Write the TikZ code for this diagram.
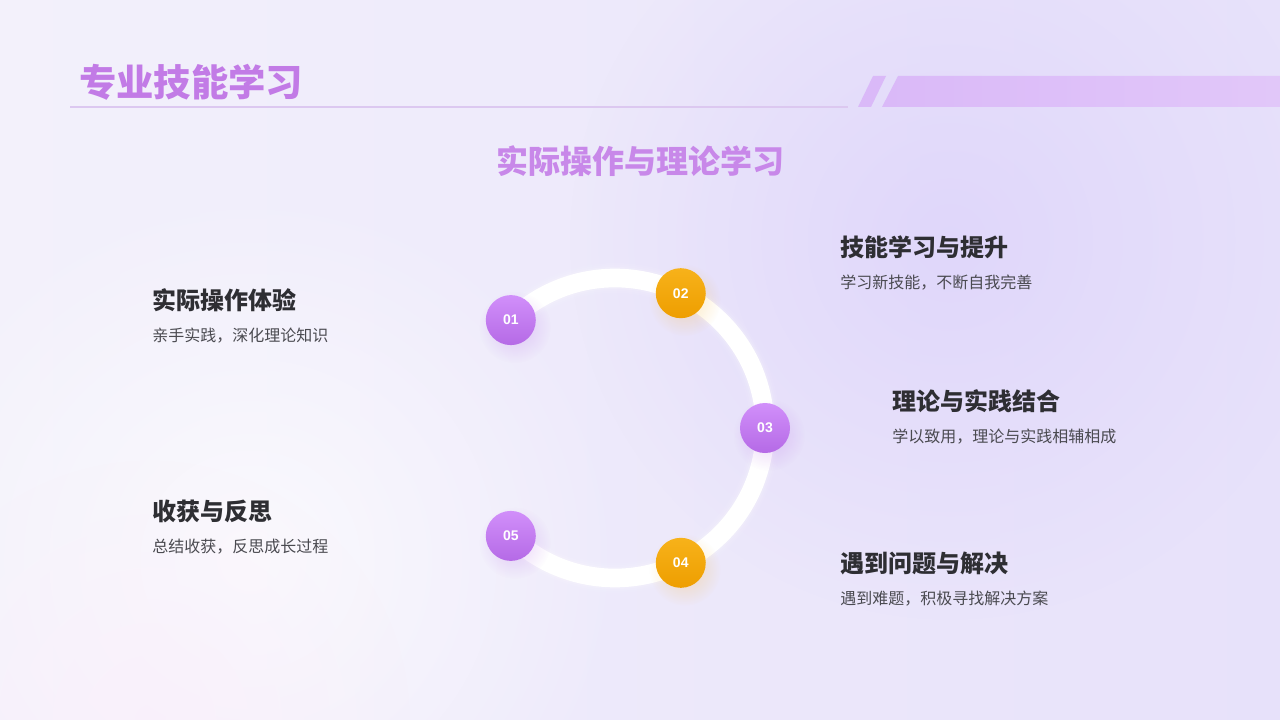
\documentclass[tikz,border=0pt]{standalone}
\usepackage{fontspec}
\newfontfamily\cjk{Noto Sans CJK SC}
\newfontfamily\numf{Liberation Sans}
\usetikzlibrary{calc,fadings}
\tikzfading[name=softblob, inner color=transparent!0, outer color=transparent!100]
\definecolor{bgA}{HTML}{F3F1FB}
\definecolor{bgB}{HTML}{E7E1FA}
\definecolor{blobP}{HTML}{DDD3FA}
\definecolor{blobK}{HTML}{FBF0FB}
\definecolor{titlep}{HTML}{C27BE6}
\definecolor{barp}{HTML}{DAB9F8}
\definecolor{linep}{HTML}{DCC8F0}
\definecolor{purA}{HTML}{D18FFA}
\definecolor{purB}{HTML}{B56AE6}
\definecolor{orA}{HTML}{F7B21A}
\definecolor{orB}{HTML}{EE9E00}
\definecolor{headc}{HTML}{2E2E33}
\definecolor{subc}{HTML}{4A4A50}
\tikzset{
  heading/.style={anchor=west,inner sep=0pt,font=\cjk\bfseries\fontsize{18pt}{21pt}\selectfont,text=headc},
  subtext/.style={anchor=west,inner sep=0pt,font=\cjk\fontsize{12pt}{14pt}\selectfont,text=subc},
  purdot/.style={circle,minimum size=37.5pt,inner sep=0pt,text=white,font=\numf\bfseries\fontsize{10.5pt}{12pt}\selectfont,shade,top color=purA,bottom color=purB},
  ordot/.style={circle,minimum size=37.5pt,inner sep=0pt,text=white,font=\numf\bfseries\fontsize{10.5pt}{12pt}\selectfont,shade,top color=orA,bottom color=orB},
}
\begin{document}
\begin{tikzpicture}[x=0.75pt,y=-0.75pt]
% background
\useasboundingbox (0,0) rectangle (1280,720);
\shade[left color=bgA,right color=bgB] (0,0) rectangle (1280,720);
\fill[blobP,path fading=softblob,opacity=0.8] (950,240) circle[radius=380];
\fill[white,path fading=softblob,opacity=0.7] (250,560) circle[radius=380];
\fill[blobK,path fading=softblob,opacity=0.8] (150,720) circle[radius=260];
% header
\node[anchor=west,inner sep=0pt,font=\cjk\bfseries\fontsize{28pt}{30pt}\selectfont,text=titlep] (title) at (79,82) {专业技能学习};
\draw[linep,line width=1.1pt] (70,107) coordinate (l1) -- (848,107) coordinate (l2);
\fill[barp] (858,107) -- (873,76) -- (886,76) -- (871,107) -- cycle;
\shade[left color=barp,right color=barp!80!white] (882,107) -- (898,76) -- (1280,76) -- (1280,107) -- cycle;
\node[font=\cjk\bfseries\fontsize{24pt}{26pt}\selectfont,text=titlep!90!white,inner sep=0pt] (sub) at (640,161) {实际操作与理论学习};
% ring
\coordinate (c) at (615,428);
\foreach \w/\o in {30/0.05,26/0.08,22/0.15} {
  \draw[white,line width=\w*0.75pt,opacity=\o] (c) ++(-134:150) arc[start angle=-134,end angle=134,radius=150];
}
\draw[white,line width=14pt] (c) ++(-134:150) arc[start angle=-134,end angle=134,radius=150];
% glows
\foreach \a/\col in {-134/B56AE6,-64/F5B020,0/B56AE6,64/F5B020,134/B56AE6} {
  \definecolor{gl}{HTML}{\col}
  \fill[gl,opacity=0.3,path fading=softblob] ($(c)+(\a:150)+(4,7)$) circle[radius=36];
}
\node[purdot] (n1) at ($(c)+(-134:150)$) {01};
\node[ordot]  (n2) at ($(c)+(-64:150)$) {02};
\node[purdot] (n3) at ($(c)+(0:150)$) {03};
\node[ordot]  (n4) at ($(c)+(64:150)$) {04};
\node[purdot] (n5) at ($(c)+(134:150)$) {05};
% texts
\node[heading] (h1) at (152,300) {实际操作体验};
\node[subtext] (s1) at (152,336) {亲手实践，深化理论知识};
\node[heading] (h2) at (840,247) {技能学习与提升};
\node[subtext] (s2) at (840,283) {学习新技能，不断自我完善};
\node[heading] (h3) at (892,401) {理论与实践结合};
\node[subtext] (s3) at (892,437) {学以致用，理论与实践相辅相成};
\node[heading] (h5) at (152,511) {收获与反思};
\node[subtext] (s5) at (152,547) {总结收获，反思成长过程};
\node[heading] (h4) at (840,563) {遇到问题与解决};
\node[subtext] (s4) at (840,599) {遇到难题，积极寻找解决方案};
\end{tikzpicture}
\end{document}
